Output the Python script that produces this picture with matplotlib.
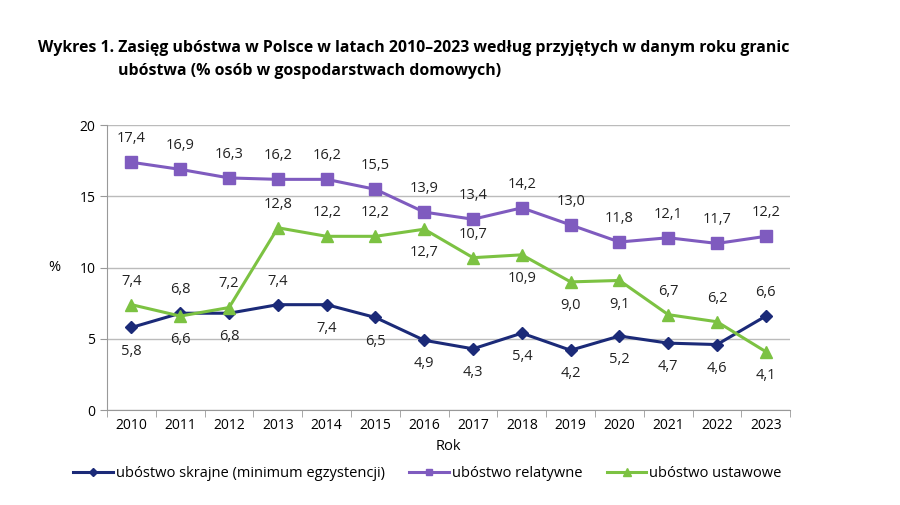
import matplotlib
matplotlib.use('Agg')
import matplotlib.pyplot as plt
import numpy as np

years = [str(y) for y in range(2010, 2024)]
skrajne = [5.8, 6.8, 6.8, 7.4, 7.4, 6.5, 4.9, 4.3, 5.4, 4.2, 5.2, 4.7, 4.6, 6.6]
relatywne = [17.4, 16.9, 16.3, 16.2, 16.2, 15.5, 13.9, 13.4, 14.2, 13.0, 11.8, 12.1, 11.7, 12.2]
ustawowe = [7.4, 6.6, 7.2, 12.8, 12.2, 12.2, 12.7, 10.7, 10.9, 9.0, 9.1, 6.7, 6.2, 4.1]

# label placement: 1 above, -1 below
pos_skrajne = [-1, 1, -1, 1, -1, -1, -1, -1, -1, -1, -1, -1, -1, 1]
pos_relatywne = [1] * 14
pos_ustawowe = [1, -1, 1, 1, 1, 1, -1, 1, -1, -1, -1, 1, 1, -1]

plt.rcParams['font.family'] = ['Open Sans', 'DejaVu Sans']

c_blue = '#1b2a78'
c_purple = '#7f5bbf'
c_green = '#7cc242'

fig = plt.figure(figsize=(9, 5.05), dpi=100)
ax = fig.add_axes([0.119, 0.188, 0.759, 0.564])

x = np.arange(len(years))
ax.plot(x, skrajne, color=c_blue, lw=2.2, marker='D', ms=6.5,
        label='ubóstwo skrajne (minimum egzystencji)')
ax.plot(x, relatywne, color=c_purple, lw=2.2, marker='s', ms=8,
        label='ubóstwo relatywne')
ax.plot(x, ustawowe, color=c_green, lw=2.2, marker='^', ms=8.5,
        label='ubóstwo ustawowe')

for vals, poss in [(skrajne, pos_skrajne), (relatywne, pos_relatywne), (ustawowe, pos_ustawowe)]:
    for i, (v, p) in enumerate(zip(vals, poss)):
        ax.annotate(f'{v:.1f}'.replace('.', ','), (i, v), xytext=(0, 17 * p),
                    textcoords='offset points', ha='center', va='center',
                    fontsize=10.5, color='#222222')

ax.set_xlim(-0.5, 13.5)
ax.set_ylim(0, 20)
ax.set_yticks([0, 5, 10, 15, 20])
ax.set_xticks(x)
ax.set_xticklabels(years)
ax.set_xticks(np.arange(-0.5, 14, 1), minor=True)
ax.tick_params(axis='x', which='major', length=0, labelsize=10, pad=6)
ax.tick_params(axis='x', which='minor', length=5, color='#999999')
ax.tick_params(axis='y', length=5, color='#999999', labelsize=10)
ax.grid(axis='y', color='#bbbbbb', lw=1)
ax.set_axisbelow(True)
for s in ['top', 'right']:
    ax.spines[s].set_visible(False)
for s in ['left', 'bottom']:
    ax.spines[s].set_color('#999999')

ax.set_xlabel('Rok', fontsize=10.5, labelpad=4)
ax.set_ylabel('%', fontsize=10.5, rotation=0, labelpad=18, va='center')

ax.legend(loc='upper center', bbox_to_anchor=(0.469, -0.152), ncol=3, frameon=False,
          fontsize=10.5, handlelength=2.7, handletextpad=0.2, columnspacing=1.7,
          markerscale=0.6)

fig.text(0.042, 0.905, 'Wykres 1. Zasięg ubóstwa w Polsce w latach 2010–2023 według przyjętych w danym roku granic',
         fontsize=11.4, fontweight='bold', ha='left', va='center')
fig.text(0.131, 0.86, 'ubóstwa (% osób w gospodarstwach domowych)',
         fontsize=11.4, fontweight='bold', ha='left', va='center')

fig.savefig('out.png', dpi=100)
